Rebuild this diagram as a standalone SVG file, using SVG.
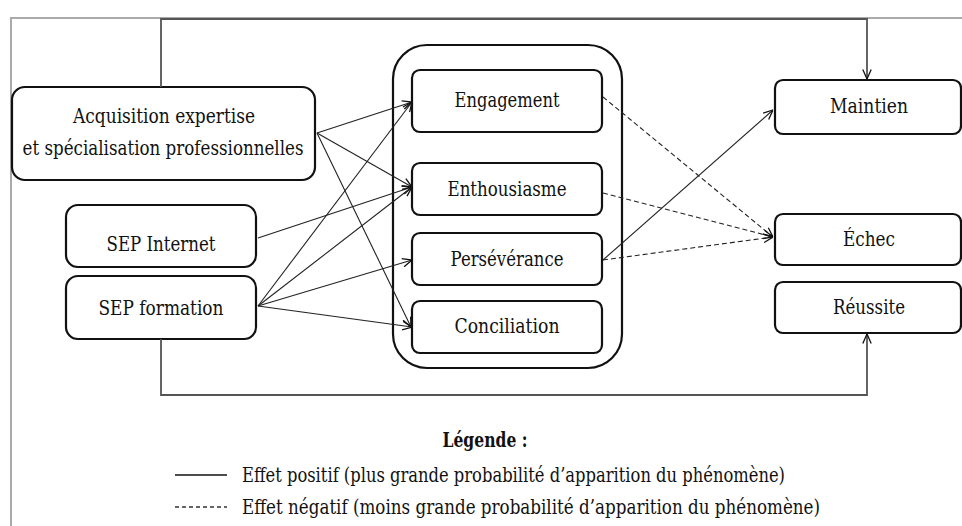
<svg xmlns="http://www.w3.org/2000/svg" width="962" height="526" viewBox="0 0 962 526">
<style>
  .box { fill: #fff; stroke: #111; stroke-width: 2.2; }
  .grp { fill: none; stroke: #111; stroke-width: 2.2; }
  text { font-family: "DejaVu Serif", "Liberation Serif", serif; fill: #111; }
  .lbl { font-size: 21px; text-anchor: middle; }
  .leg { font-size: 19.5px; }
  .c { fill: none; stroke: #222; stroke-width: 1.1; }
  .d { fill: none; stroke: #222; stroke-width: 1.1; stroke-dasharray: 5 3; }
  .frame { fill: none; stroke: #aaa; stroke-width: 2; }
  .loop { fill: none; stroke: #555; stroke-width: 1.8; }
</style>
<defs>
  <marker id="arr" viewBox="0 0 10 10" refX="10" refY="5" markerWidth="10" markerHeight="10" markerUnits="userSpaceOnUse" orient="auto">
    <path d="M0.5,0.8 L10,5 L0.5,9.2" fill="none" stroke="#111" stroke-width="1.3" stroke-dasharray="none"/>
  </marker>
</defs>
<rect width="962" height="526" fill="#fff"/>
<g id="frame">
  <path class="frame" d="M11,526 V18 H962"/>
</g>
<g id="acquisition">
  <rect class="box" x="12" y="87" width="303" height="93" rx="13"/>
  <text class="lbl" x="164" y="123" textLength="182" lengthAdjust="spacingAndGlyphs">Acquisition expertise</text>
  <text class="lbl" x="163" y="155" textLength="281" lengthAdjust="spacingAndGlyphs">et spécialisation professionnelles</text>
</g>
<g id="sep-internet">
  <rect class="box" x="66" y="205" width="190" height="62" rx="12"/>
  <text class="lbl" x="161" y="251" textLength="109" lengthAdjust="spacingAndGlyphs">SEP Internet</text>
</g>
<g id="sep-formation">
  <rect class="box" x="66" y="276" width="190" height="63" rx="12"/>
  <text class="lbl" x="161" y="315" textLength="125" lengthAdjust="spacingAndGlyphs">SEP formation</text>
</g>
<g id="groupe">
  <rect class="grp" x="393" y="45" width="229" height="323" rx="34"/>
</g>
<g id="engagement">
  <rect class="box" x="412" y="70" width="190" height="62" rx="8"/>
  <text class="lbl" x="507" y="107" textLength="105" lengthAdjust="spacingAndGlyphs">Engagement</text>
</g>
<g id="enthousiasme">
  <rect class="box" x="412" y="163" width="190" height="52" rx="8"/>
  <text class="lbl" x="507" y="196" textLength="119" lengthAdjust="spacingAndGlyphs">Enthousiasme</text>
</g>
<g id="perseverance">
  <rect class="box" x="412" y="233" width="190" height="52" rx="8"/>
  <text class="lbl" x="507" y="266" textLength="113" lengthAdjust="spacingAndGlyphs">Persévérance</text>
</g>
<g id="conciliation">
  <rect class="box" x="412" y="301" width="190" height="52" rx="8"/>
  <text class="lbl" x="507" y="333" textLength="105" lengthAdjust="spacingAndGlyphs">Conciliation</text>
</g>
<g id="maintien">
  <rect class="box" x="775" y="80" width="186" height="54" rx="8"/>
  <text class="lbl" x="869" y="113" textLength="78" lengthAdjust="spacingAndGlyphs">Maintien</text>
</g>
<g id="echec">
  <rect class="box" x="775" y="214" width="186" height="51" rx="8"/>
  <text class="lbl" x="869" y="246" textLength="52" lengthAdjust="spacingAndGlyphs">Échec</text>
</g>
<g id="reussite">
  <rect class="box" x="775" y="282" width="186" height="51" rx="8"/>
  <text class="lbl" x="869" y="314" textLength="72" lengthAdjust="spacingAndGlyphs">Réussite</text>
</g>
<g id="connectors">
  <path class="loop" d="M161,87 V19 H867 V79" marker-end="url(#arr)"/>
  <path class="loop" d="M161,339 V395 H867 V334" marker-end="url(#arr)"/>
  <line class="c" x1="317" y1="133" x2="412" y2="102" marker-end="url(#arr)"/>
  <line class="c" x1="317" y1="133" x2="412" y2="187" marker-end="url(#arr)"/>
  <line class="c" x1="317" y1="133" x2="411" y2="327" marker-end="url(#arr)"/>
  <line class="c" x1="258" y1="238" x2="412" y2="187" marker-end="url(#arr)"/>
  <line class="c" x1="258" y1="306" x2="412" y2="102" marker-end="url(#arr)"/>
  <line class="c" x1="258" y1="306" x2="412" y2="187" marker-end="url(#arr)"/>
  <line class="c" x1="258" y1="306" x2="412" y2="260" marker-end="url(#arr)"/>
  <line class="c" x1="258" y1="306" x2="412" y2="327" marker-end="url(#arr)"/>
  <line class="d" x1="603" y1="97" x2="773" y2="237" marker-end="url(#arr)"/>
  <line class="d" x1="603" y1="193" x2="773" y2="237" marker-end="url(#arr)"/>
  <line class="d" x1="603" y1="260" x2="773" y2="237" marker-end="url(#arr)"/>
  <line class="c" x1="603" y1="260" x2="773" y2="110" marker-end="url(#arr)"/>
</g>
<g id="legende">
  <text class="leg" x="485" y="447" text-anchor="middle" font-weight="bold" textLength="85" lengthAdjust="spacingAndGlyphs">Légende :</text>
  <line x1="175" y1="475" x2="227" y2="475" stroke="#111" stroke-width="1.5"/>
  <text class="leg" x="242" y="482" textLength="543" lengthAdjust="spacingAndGlyphs">Effet positif (plus grande probabilité d’apparition du phénomène)</text>
  <line x1="175" y1="507" x2="227" y2="507" stroke="#333" stroke-width="1.3" stroke-dasharray="4 3"/>
  <text class="leg" x="242" y="514" textLength="578" lengthAdjust="spacingAndGlyphs">Effet négatif (moins grande probabilité d’apparition du phénomène)</text>
</g>
</svg>
